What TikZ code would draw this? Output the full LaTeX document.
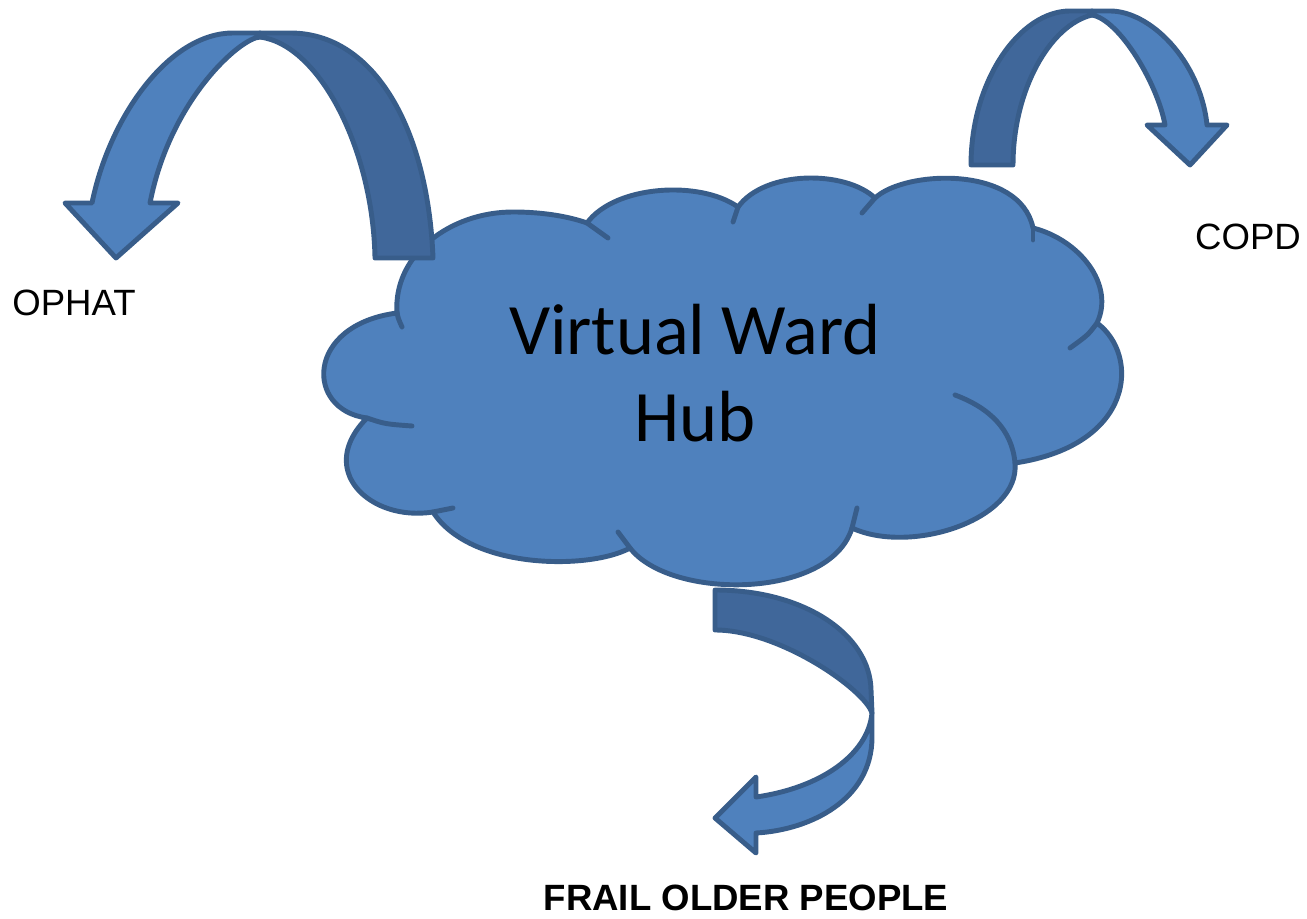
\documentclass[tikz,border=0pt]{standalone}
\usepackage{fontspec}
\setmainfont{Liberation Sans}
\newfontfamily\hubfont{Carlito}
\definecolor{cloudblue}{HTML}{4F81BD}
\definecolor{bandblue}{HTML}{40679A}
\definecolor{edgeblue}{HTML}{385D8A}

\begin{document}
\begin{tikzpicture}[x=0.01cm, y=-0.01cm, line width=1.4pt, line join=round,
  lightpart/.style={draw=edgeblue, fill=cloudblue},
  darkpart/.style={draw=edgeblue, fill=bandblue},
  fold/.style={draw=edgeblue, line cap=round},
  armlabel/.style={font=\fontsize{10.4}{12}\selectfont, inner sep=0pt}]
  \useasboundingbox (0,0) rectangle (1307,919);

  % cloud
  \path[lightpart] (367,418) .. controls (305,410) and (305,325) .. (397,313)
    .. controls (393,255) and (450,212) .. (513,212)
    .. controls (545,212) and (570,217) .. (587,223)
    .. controls (615,185) and (700,180) .. (738,207)
    .. controls (765,170) and (845,170) .. (875,198)
    .. controls (905,170) and (1020,165) .. (1033,228)
    .. controls (1080,240) and (1115,285) .. (1097,323)
    .. controls (1140,355) and (1135,445) .. (1015,463)
    .. controls (1020,520) and (910,555) .. (852,528)
    .. controls (830,600) and (670,600) .. (630,548)
    .. controls (590,570) and (470,570) .. (433,512)
    .. controls (370,522) and (315,470) .. (367,418) -- cycle;
  \draw[fold] (397,312) .. controls (398,318) .. (402,327);
  \draw[fold] (367,418) .. controls (385,424) .. (412,426);
  \draw[fold] (433,512) -- (453,508);
  \draw[fold] (630,548) -- (618,532);
  \draw[fold] (852,528) -- (857,508);
  \draw[fold] (1015,463) .. controls (1012,430) and (990,408) .. (955,395);
  \draw[fold] (1097,323) .. controls (1088,335) .. (1070,348);
  \draw[fold] (1033,228) -- (1033,240);
  \draw[fold] (875,198) -- (862,213);
  \draw[fold] (738,207) -- (733,222);
  \draw[fold] (587,223) -- (608,238);

  \node[font=\hubfont\fontsize{20.6}{24.7}\selectfont, align=center] (hub) at (695,373) {Virtual Ward\\Hub};

  % arrow to OPHAT
  \path[darkpart] (375,258) -- (433,258) .. controls (428,130) and (375,33) .. (290,33)
    -- (260,33) -- (260,37) .. controls (320,45) and (373,150) .. (375,258) -- cycle;
  \path[lightpart] (65,203) -- (92,203) .. controls (110,115) and (170,33) .. (233,33)
    -- (260,33) -- (260,37) .. controls (240,38) and (170,100) .. (150,203)
    -- (178,203) -- (116,258) -- cycle;

  % arrow to COPD
  \path[darkpart] (971,165) .. controls (971,80) and (1020,11) .. (1070,11)
    -- (1092,11) -- (1092,15) .. controls (1050,25) and (1013,90) .. (1013,165) -- cycle;
  \path[lightpart] (1092,15) -- (1092,11) -- (1110,11) .. controls (1150,11) and (1200,60) .. (1207,125)
    -- (1227,125) -- (1190,165) -- (1147,125) -- (1165,125)
    .. controls (1158,85) and (1120,20) .. (1092,15) -- cycle;

  % arrow to frail older people
  \path[darkpart] (715,590) .. controls (805,590) and (870,635) .. (871,690) -- (872,713)
    .. controls (865,690) and (780,630) .. (715,630) -- cycle;
  \path[lightpart] (872,713) -- (872,737) .. controls (872,800) and (810,830) .. (756,833)
    -- (756,853) -- (715,818) -- (756,777) -- (756,797)
    .. controls (820,788) and (868,755) .. (872,713) -- cycle;

  \node[armlabel] (ophat) at (74,303) {OPHAT};
  \node[armlabel] (copd) at (1248,237) {COPD};
  \node[armlabel] (frail) at (746,898) {\bfseries FRAIL OLDER PEOPLE};
\end{tikzpicture}
\end{document}
